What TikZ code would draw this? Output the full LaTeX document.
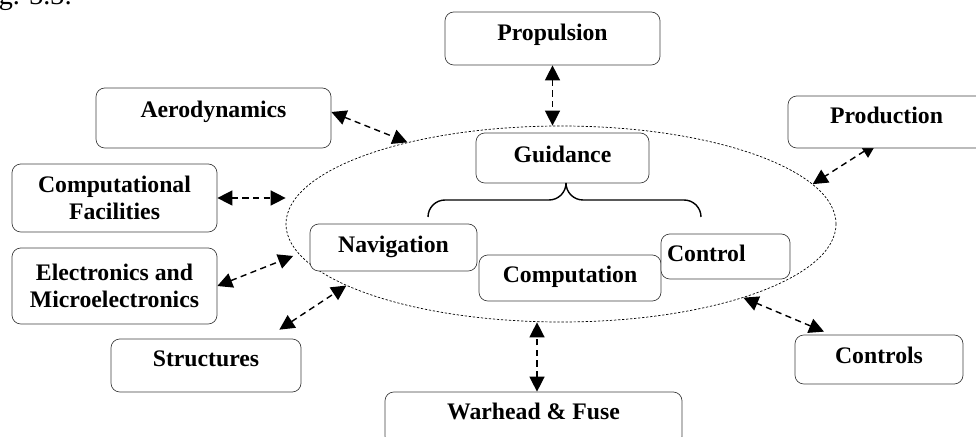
\documentclass[tikz,border=0pt]{standalone}
\usepackage{fontspec}
\setmainfont{Liberation Serif}
\usetikzlibrary{shapes.geometric, arrows.meta, positioning, calc, backgrounds}
\tikzset{
    % Node styles - rounded boxes
    sysbox/.style={
        rectangle,
        rounded corners=5pt,
        draw=black!75,
        fill=white,
        thin,
        align=center,
        font=\fontsize{13.5}{15.5}\selectfont\bfseries
    },
    lift/.style={
        text height=9.5pt,
        text depth=#1
    },
    % The dotted ring round the guidance group
    hubring/.style={
        ellipse,
        draw,
        line width=0.4pt,
        dash pattern=on 1.3pt off 1pt,
        minimum width=11cm,
        minimum height=3.92cm,
        inner sep=0pt
    },
    bracket/.style={
        thick,
        rounded corners=0.34cm
    },
    % Arrow styles
    link/.style={
        {Triangle[length=8.5pt,width=8.5pt]}-{Triangle[length=8.5pt,width=8.5pt]},
        thick,
        dash pattern=on 3.5pt off 2.5pt
    }
}
\begin{document}
\begin{tikzpicture}
    \useasboundingbox (0,0) rectangle (19.52,8.72);

    % Caption (cut off at the top)
    \node[anchor=base west, inner sep=0pt, font=\fontsize{16}{18}\selectfont] (cap) at (-0.03,8.62) {g. 3.3:};

    % Ring
    \node[hubring] (hub) at (11.22,4.24) {};

    % Inside the ring
    \node[sysbox, lift=4.6pt, minimum width=3.46cm, minimum height=1cm] (guid) at (11.25,5.56) {Guidance};
    \node[sysbox, lift=4pt, minimum width=3.34cm, minimum height=0.94cm] (nav) at (7.87,3.77) {Navigation};
    \node[sysbox, lift=4pt, minimum width=3.64cm, minimum height=0.92cm] (comp) at (11.4,3.16) {Computation};
    \node[sysbox, lift=4pt, minimum height=0.9cm, text width=2.34cm, inner xsep=0.12cm, align=left] (ctrl) at (14.51,3.59) {Control};

    % Brace under guidance
    \draw[bracket] (8.56,4.38) |- (11.32,4.72) -- (11.32,5.06);
    \draw[bracket] (14.02,4.38) |- (11.32,4.72) -- (11.32,5.06);

    % Outside the ring
    \node[sysbox, lift=7.4pt, minimum width=4.3cm, minimum height=1.06cm] (prop) at (11.05,7.95) {Propulsion};
    \node[sysbox, lift=10.2pt, minimum width=4.7cm, minimum height=1.2cm] (aero) at (4.27,6.36) {Aerodynamics};
    \node[sysbox, minimum width=4.1cm, minimum height=1.36cm] (facil) at (2.29,4.76) {Computational\\Facilities};
    \node[sysbox, minimum width=4.1cm, minimum height=1.52cm] (elec) at (2.29,3.0) {Electronics and\\Microelectronics};
    \node[sysbox, lift=8pt, minimum width=3.8cm, minimum height=1.06cm] (struc) at (4.12,1.41) {Structures};
    \node[sysbox, lift=8pt, minimum width=5.94cm, minimum height=1.06cm] (war) at (10.67,0.35) {Warhead \& Fuse};
    \node[sysbox, lift=5.2pt, minimum width=3.36cm, minimum height=0.98cm] (ctrls) at (17.58,1.53) {Controls};
    \node[sysbox, lift=8pt, minimum width=3.94cm, minimum height=1.04cm] (prod) at (17.73,6.28) {Production};

    % Links
    \begin{scope}[on background layer]
        \draw[link] (prop.south) -- (prop.south |- hub.north);
        \draw[link] ([yshift=0.12cm]aero.east) -- (hub.152);
        \draw[link] (facil.east) -- (facil.east -| hub.west);
        \draw[link] (elec.east) -- ([xshift=-0.15cm]hub.187);
        \draw[link] ([xshift=-0.44cm,yshift=0.18cm]struc.north east) -- (hub.196);
        \draw[link] ([xshift=0.07cm]war.north) -- ([xshift=0.07cm]war.north |- hub.south);
        \draw[link] ([xshift=-1.1cm,yshift=0.06cm]ctrls.north) -- (hub.338);
        \draw[link] ([xshift=-0.2cm,yshift=0.1cm]prod.south) -- (hub.9);
    \end{scope}
\end{tikzpicture}
\end{document}
